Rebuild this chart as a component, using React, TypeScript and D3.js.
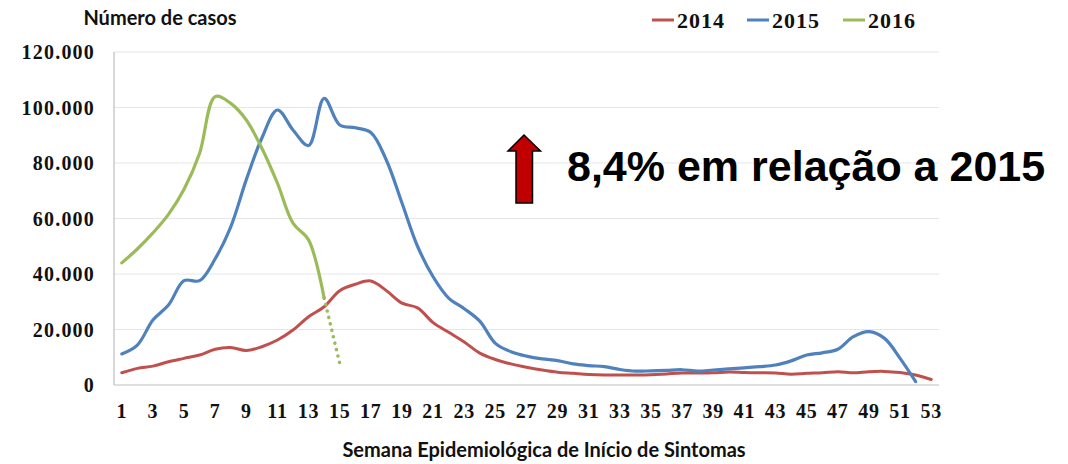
import React from "react";
import * as d3 from "d3";

const weeks = [1,2,3,4,5,6,7,8,9,10,11,12,13,14,15,16,17,18,19,20,21,22,23,24,25,26,27,28,29,30,31,32,33,34,35,36,37,38,39,40,41,42,43,44,45,46,47,48,49,50,51,52,53];
const weekTickLabels = [1,3,5,7,9,11,13,15,17,19,21,23,25,27,29,31,33,35,37,39,41,43,45,47,49,51,53];
const yTicks = [0, 20000, 40000, 60000, 80000, 100000, 120000];

const cases2014 = [4400,6000,6800,8400,9600,10800,12900,13500,12400,13800,16200,19800,24600,28200,34000,36300,37500,34000,29500,27800,22500,19000,15500,11500,9200,7600,6400,5400,4600,4200,3800,3600,3600,3600,3700,4000,4300,4300,4400,4700,4500,4400,4300,3900,4200,4400,4800,4400,4800,4900,4500,3600,2000];
const cases2015 = [11200,14400,23400,28800,37600,37600,45500,57000,74000,89000,99100,91900,86300,103300,93700,92700,91000,81000,65600,50000,39000,31300,27500,23000,15000,12000,10400,9400,8800,7600,7000,6600,5600,5000,5100,5300,5500,5000,5400,5800,6200,6600,7200,8700,10800,11600,12900,17400,19200,16800,9600,1200];
const cases2016 = [44000,49000,54800,61500,70500,83500,103900,101500,95500,85300,72700,58300,52300,31300];
const estimate2016Weeks = [14, 15];
const estimate2016 = [31300, 7800];

const seriesNames = ["2014", "2015", "2016"];
const seriesColors = ["#C0504D", "#4F81BD", "#9BBB59"];

const W = 1068, H = 464;
const left = 114, right = 939, top = 52, bottom = 385;

export default function App() {
  const x = d3.scaleBand<number>().domain(weeks).range([left, right]);
  const cx = (w: number) => (x(w) as number) + x.bandwidth() / 2;
  const y = d3.scaleLinear().domain([0, 120000]).range([bottom, top]);
  const fmt = d3.formatLocale({ decimal: ",", thousands: ".", grouping: [3], currency: ["", ""] }).format(",");

  const line = d3.line<[number, number]>()
    .x(d => cx(d[0]))
    .y(d => y(d[1]))
    .curve(d3.curveCatmullRom.alpha(0.5));

  const s14 = cases2014.map((v, i) => [weeks[i], v] as [number, number]);
  const s15 = cases2015.map((v, i) => [weeks[i], v] as [number, number]);
  const s16 = cases2016.map((v, i) => [weeks[i], v] as [number, number]);
  const e16 = estimate2016.map((v, i) => [estimate2016Weeks[i], v] as [number, number]);

  const serif = "'Liberation Serif', 'Times New Roman', serif";
  const sans = "Lato, 'Open Sans', sans-serif";

  const legendX = [652, 747, 843];

  return (
    <div style={{ position: "fixed", left: 0, top: 0 }}>
      <svg width={W} height={H} style={{ display: "block", background: "#fff" }}>
        {yTicks.filter(t => t > 0).map(t => (
          <line key={t} x1={left} x2={right} y1={y(t)} y2={y(t)} stroke="#e6e6e6" strokeWidth={1} />
        ))}
        <line x1={left} x2={left} y1={top} y2={bottom} stroke="#bfbfbf" strokeWidth={1.2} />
        <line x1={left} x2={right} y1={bottom} y2={bottom} stroke="#bfbfbf" strokeWidth={1.2} />
        {yTicks.map(t => (
          <text key={t} x={95} y={y(t) + 7} textAnchor="end" fontFamily={serif} fontWeight="bold" fontSize={20} letterSpacing={1.2} fill="#111">{fmt(t)}</text>
        ))}
        {weekTickLabels.map(w => (
          <text key={w} x={cx(w)} y={418} textAnchor="middle" fontFamily={serif} fontWeight="bold" fontSize={20} letterSpacing={0.8} fill="#111">{w}</text>
        ))}
        <path d={line(s14) || ""} fill="none" stroke={seriesColors[0]} strokeWidth={3} strokeLinejoin="round" strokeLinecap="round" />
        <path d={line(s15) || ""} fill="none" stroke={seriesColors[1]} strokeWidth={3.2} strokeLinejoin="round" strokeLinecap="round" />
        <path d={line(s16) || ""} fill="none" stroke={seriesColors[2]} strokeWidth={3.2} strokeLinejoin="round" strokeLinecap="round" />
        <path d={line(e16) || ""} fill="none" stroke={seriesColors[2]} strokeWidth={3.5} strokeDasharray="0.1 6.5" strokeLinecap="round" />
        <text x={160} y={25} textAnchor="middle" fontFamily={sans} fontWeight="bold" fontSize={20} fill="#111">Número de casos</text>
        <text x={544} y={457} textAnchor="middle" fontFamily={sans} fontWeight="bold" fontSize={20} fill="#111">Semana Epidemiológica de Início de Sintomas</text>
        {seriesNames.map((n, i) => (
          <g key={n}>
            <line x1={legendX[i]} x2={legendX[i] + 22} y1={20} y2={20} stroke={seriesColors[i]} strokeWidth={3} />
            <text x={legendX[i] + 25} y={28} fontFamily={serif} fontWeight="bold" fontSize={22} letterSpacing={1} fill="#111">{n}</text>
          </g>
        ))}
        <path d="M524,135 L540.5,151 L532.5,151 L532.5,203 L516,203 L516,151 L508,151 Z" fill="#C00000" stroke="#000" strokeWidth={1.5} strokeLinejoin="miter" />
        <text x={567} y={181} fontFamily="'Liberation Sans', Arial, sans-serif" fontWeight="bold" fontSize={43} fill="#000">8,4% em relação a 2015</text>
      </svg>
    </div>
  );
}
